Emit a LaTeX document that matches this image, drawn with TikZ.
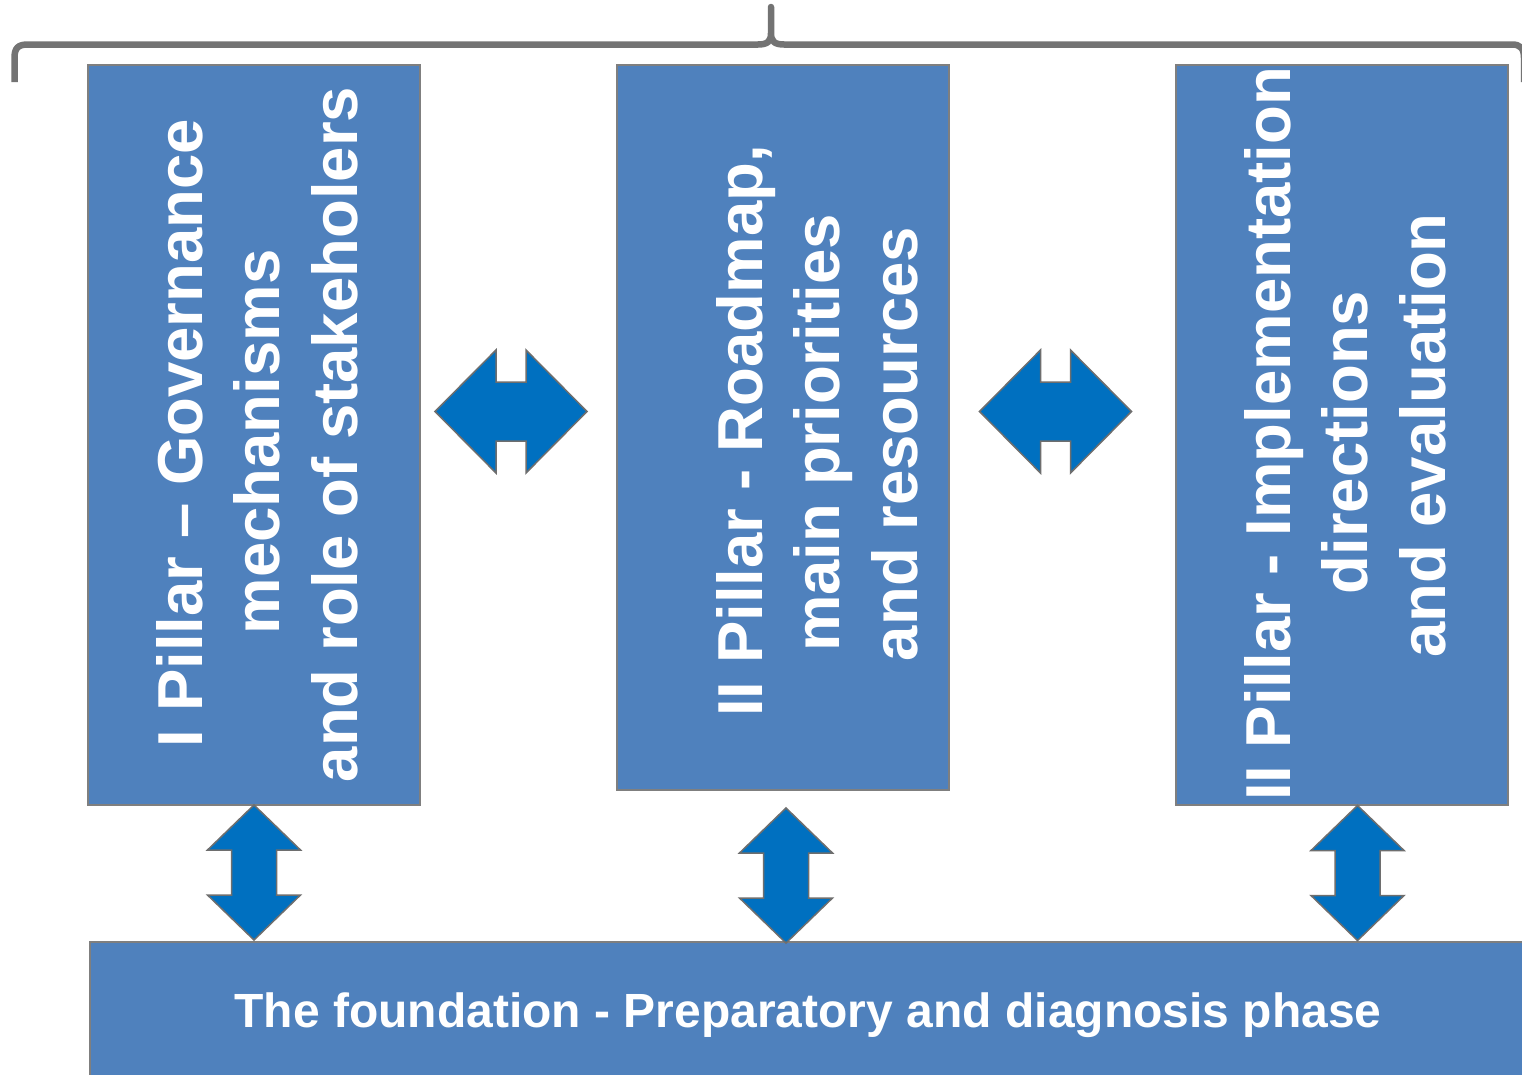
\documentclass[tikz,border=0pt]{standalone}
\usepackage{fontspec}
\setmainfont{Liberation Sans}
\begin{document}
\begin{tikzpicture}[x=1pt,y=-1pt,
  pillarbox/.style={draw=boxgray,line width=2pt,fill=pillarblue},
  arrowshape/.style={draw=arrowgray,line width=1.5pt,fill=arrowblue,line join=miter},
  bigtext/.style={text=white,font=\bfseries\fontsize{63.5}{77}\selectfont,inner sep=0pt,anchor=base,rotate=90},
  basetext/.style={text=white,font=\bfseries\fontsize{48}{58}\selectfont,inner sep=0pt,anchor=base},
  pics/harrow/.style={code={
    \path[arrowshape] (-76,0) -- (-15,-61.5) -- (-15,-29.5) -- (15,-29.5) -- (15,-61.5)
      -- (76,0) -- (15,61.5) -- (15,29.5) -- (-15,29.5) -- (-15,61.5) -- cycle;}},
  pics/varrow/.style={code={
    \path[arrowshape] (0,-67.5) -- (46.5,-22.5) -- (22.5,-22.5) -- (22.5,22.5) -- (46.5,22.5)
      -- (0,67.5) -- (-46.5,22.5) -- (-22.5,22.5) -- (-22.5,-22.5) -- (-46.5,-22.5) -- cycle;}}
]
\definecolor{pillarblue}{HTML}{4F81BD}
\definecolor{arrowblue}{HTML}{0070C0}
\definecolor{boxgray}{HTML}{7F7F7F}
\definecolor{arrowgray}{HTML}{6E6E6E}
\definecolor{bracegray}{HTML}{737373}

\clip (0,0) rectangle (1522,1074);
\fill[white] (0,0) rectangle (1522,1074);

% brace over the three pillars
\draw[bracegray,line width=6.5pt,line cap=butt,line join=round]
  (14.5,82) -- (14.5,58) .. controls (14.5,48) and (18,44.5) .. (28,44.5)
  -- (758,44.5) .. controls (768,44.5) and (771,41) .. (771,33) -- (771,7)
  -- (771,33) .. controls (771,41) and (774,44.5) .. (784,44.5)
  -- (1512,44.5) .. controls (1520,44.5) and (1524,48) .. (1524,58) -- (1524,82);

% pillars
\node[pillarbox,minimum width=332pt,minimum height=740pt,inner sep=0pt] (p1) at (254,435) {};
\node[pillarbox,minimum width=332pt,minimum height=725pt,inner sep=0pt] (p2) at (783,427.5) {};
\node[pillarbox,minimum width=332pt,minimum height=740pt,inner sep=0pt] (p3) at (1342,435) {};

% foundation
\node[pillarbox,minimum width=1441pt,minimum height=150pt,inner sep=0pt,anchor=north west] (base) at (89,941) {};

% pillar titles
\node[bigtext] (t1a) at (202,433) {I Pillar – Governance};
\node[bigtext] (t1b) at (279.5,442) {mechanisms};
\node[bigtext] (t1c) at (357,434.5) {and role of stakeholers};

\node[bigtext] (t2a) at (762,431) {II Pillar - Roadmap,};
\node[bigtext] (t2b) at (839.5,433) {main priorities};
\node[bigtext] (t2c) at (917,444) {and resources};

\node[bigtext] (t3a) at (1290,434) {II Pillar - Implementation};
\node[bigtext] (t3b) at (1367.5,442.5) {directions};
\node[bigtext] (t3c) at (1445,435.5) {and evaluation};

\node[basetext] (tb) at (808,1027) {The foundation - Preparatory and diagnosis phase};

% links between pillars
\pic (h1) at (511,411.5) {harrow};
\pic (h2) at (1055.5,411.5) {harrow};

% links to the foundation
\pic (v1) at (254,872.5) {varrow};
\pic (v2) at (786,875.5) {varrow};
\pic (v3) at (1357.5,873) {varrow};
\end{tikzpicture}
\end{document}
